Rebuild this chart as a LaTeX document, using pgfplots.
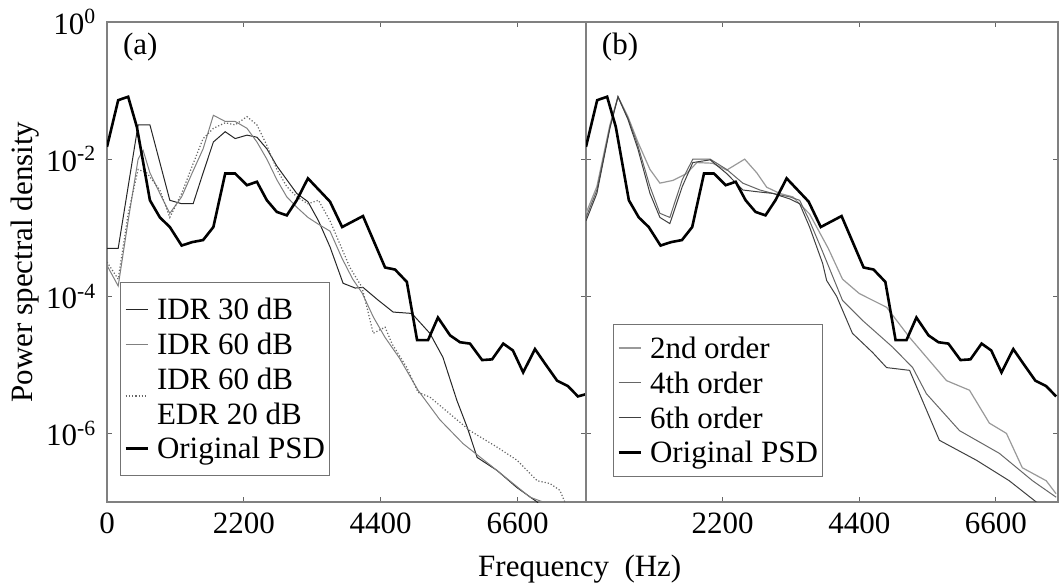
\documentclass[border=0pt]{standalone}
\usepackage{fontspec}
\setmainfont{Liberation Serif}
\usepackage{pgfplots}
\pgfplotsset{compat=1.18}
\pgfplotsset{
  common/.style={
    scale only axis, height=240pt,
    ymin=-7, ymax=0,
    ytick={-6,-4,-2,0},
    xtick={0,2200,4400,6600},
    tick align=inside,
    xtick pos=both, ytick pos=both,
    major tick length=2.5pt,
    axis line style={black!50, line width=0.7pt},
    every tick/.style={black!60, line width=0.5pt},
    legend cell align=left,
    legend style={draw=black!55, line width=0.5pt, fill=white, inner xsep=2pt, inner ysep=5.5pt, row sep=1.5pt, nodes={inner sep=0.5pt},
      /tikz/every odd column/.append style={column sep=3.5pt}},
    legend image code/.code={\draw[##1] (0pt,0pt) -- (11pt,0pt);},
    clip=true,
  },
  shiftedlegend/.style={legend image code/.code={\draw[##1, overlay] (0pt,-8.5pt) -- (11pt,-8.5pt);}},
}
\begin{document}
\fontsize{15.5}{18}\selectfont
\begin{tikzpicture}
\path[use as bounding box] (0pt,0pt) rectangle (529.5pt,291.5pt);
\begin{axis}[common, at={(53.5pt,40.5pt)}, anchor=south west, width=239.5pt,
  xmin=0, xmax=7700,
  xticklabels={0,2200,4400,6600},
  yticklabels={10\textsuperscript{-6},10\textsuperscript{-4},10\textsuperscript{-2},10\textsuperscript{0}},
  ylabel={Power spectral density},
  ylabel style={yshift=-7pt},
  xlabel={Frequency\enspace(Hz)},
  xlabel style={at={(ticklabel cs:0.987)}, anchor=north},
  legend style={at={(0.027,0.054)}, anchor=south west}]
\addplot[black!85, line width=0.5pt] coordinates {(0,-3.30)(180,-3.30)(500,-1.50)(690,-1.50)(1010,-2.60)(1200,-2.65)(1385,-2.65)(1545,-2.20)(1710,-1.75)(1900,-1.60)(2060,-1.70)(2250,-1.65)(2410,-1.68)(2570,-1.85)(2730,-2.10)(2890,-2.30)(3050,-2.50)(3230,-2.62)(3400,-2.90)(3585,-3.28)(3795,-3.81)(3990,-3.88)(4115,-3.87)(4350,-4.05)(4600,-4.23)(4900,-4.25)(5190,-4.54)(5400,-4.89)(5625,-5.52)(5790,-5.91)(5950,-6.35)(6270,-6.54)(6590,-6.79)(6915,-7.0)(7100,-7.2)};
\addlegendentry{\strut IDR 30 dB}
\addplot[black!50, line width=0.5pt] coordinates {(0,-3.55)(180,-3.85)(340,-2.9)(500,-2.0)(580,-1.87)(690,-2.2)(850,-2.5)(1010,-2.79)(1200,-2.55)(1370,-2.2)(1545,-1.85)(1710,-1.36)(1900,-1.45)(2060,-1.45)(2250,-1.55)(2410,-1.75)(2570,-2.00)(2730,-2.30)(2890,-2.55)(3050,-2.70)(3230,-2.85)(3400,-2.95)(3585,-3.05)(3780,-3.45)(3950,-3.75)(4100,-3.95)(4280,-4.3)(4470,-4.6)(4700,-4.9)(5000,-5.37)(5350,-5.8)(5725,-6.15)(6270,-6.54)(6800,-6.93)(7010,-7.0)(7200,-7.15)};
\addlegendentry{\strut IDR 60 dB}
\addplot[black!60, densely dotted, line width=0.6pt, shiftedlegend] coordinates {(0,-3.50)(180,-3.75)(340,-2.8)(500,-2.15)(640,-2.2)(850,-2.45)(1010,-2.85)(1200,-2.5)(1370,-2.1)(1545,-1.7)(1710,-1.55)(1900,-1.47)(2060,-1.5)(2250,-1.38)(2410,-1.5)(2570,-1.8)(2730,-2.15)(2890,-2.4)(3050,-2.55)(3230,-2.65)(3400,-2.6)(3585,-2.9)(3905,-3.58)(4100,-3.87)(4280,-4.54)(4470,-4.45)(4580,-4.69)(4820,-5.04)(5000,-5.4)(5190,-5.47)(5835,-5.96)(6270,-6.2)(6590,-6.39)(6915,-6.69)(7120,-6.73)(7280,-6.83)(7360,-7.0)(7450,-7.2)};
\addlegendentry{\strut IDR 60 dB}
\addlegendimage{empty legend}
\addlegendentry{\strut EDR 20 dB}
\addplot[black, line width=1.3pt] coordinates {(0,-1.82)(180,-1.14)(340,-1.09)(480,-1.53)(690,-2.60)(850,-2.85)(1010,-2.99)(1200,-3.26)(1370,-3.21)(1545,-3.18)(1710,-2.99)(1900,-2.21)(2060,-2.21)(2250,-2.38)(2410,-2.33)(2570,-2.60)(2730,-2.77)(2890,-2.82)(3050,-2.60)(3230,-2.28)(3460,-2.50)(3585,-2.62)(3780,-2.99)(4115,-2.83)(4470,-3.58)(4630,-3.61)(4820,-3.79)(4985,-4.64)(5160,-4.64)(5320,-4.31)(5515,-4.57)(5675,-4.67)(5835,-4.69)(6030,-4.93)(6190,-4.92)(6370,-4.69)(6525,-4.79)(6690,-5.11)(6880,-4.77)(7040,-4.98)(7235,-5.23)(7410,-5.31)(7570,-5.46)(7690,-5.43)};
\addlegendentry{\strut Original PSD}
\node[anchor=west] at (rel axis cs:0.011,0.948) {(a)};
\end{axis}
\begin{axis}[common, at={(293pt,40.5pt)}, anchor=south west, width=236pt,
  xmin=0, xmax=7600,
  xticklabels={,2200,4400,6600},
  yticklabels={},
  legend style={at={(0.057,0.052)}, anchor=south west, inner ysep=4pt}]
\addplot[black!40, line width=0.6pt] coordinates {(0,-2.79)(175,-2.4)(385,-1.5)(515,-1.09)(675,-1.38)(835,-1.75)(1030,-2.15)(1190,-2.35)(1400,-2.31)(1620,-2.21)(1785,-2.05)(2040,-2.06)(2265,-2.16)(2555,-2.0)(2750,-2.2)(2910,-2.41)(3120,-2.5)(3330,-2.55)(3600,-2.8)(3900,-3.3)(4130,-3.75)(4400,-3.96)(4840,-4.16)(5210,-4.6)(5805,-5.23)(6175,-5.37)(6495,-5.85)(6770,-6.0)(7025,-6.5)(7410,-6.69)(7570,-6.88)};
\addlegendentry{\strut 2nd order}
\addplot[black!60, line width=0.5pt] coordinates {(0,-2.85)(175,-2.45)(385,-1.53)(515,-1.09)(675,-1.4)(835,-1.8)(1030,-2.4)(1190,-2.79)(1350,-2.85)(1550,-2.3)(1720,-2.0)(2000,-2.0)(2265,-2.15)(2525,-2.35)(2800,-2.45)(3010,-2.5)(3280,-2.55)(3440,-2.6)(3600,-2.9)(3810,-3.35)(4130,-4.06)(4450,-4.35)(4935,-4.74)(5260,-5.04)(5480,-5.42)(6015,-5.96)(6655,-6.29)(7190,-6.69)(7570,-6.93)};
\addlegendentry{\strut 4th order}
\addplot[black!75, line width=0.5pt] coordinates {(0,-2.9)(175,-2.5)(385,-1.55)(515,-1.09)(675,-1.42)(835,-1.85)(1030,-2.5)(1190,-2.85)(1350,-2.94)(1550,-2.4)(1720,-2.05)(2000,-2.01)(2265,-2.21)(2525,-2.45)(2800,-2.48)(3010,-2.5)(3280,-2.58)(3440,-2.65)(3600,-2.99)(3810,-3.52)(3875,-3.77)(4035,-4.0)(4290,-4.54)(4615,-4.82)(4840,-5.04)(5210,-5.08)(5690,-6.10)(6285,-6.39)(6815,-6.69)(7250,-7.0)(7500,-7.2)};
\addlegendentry{\strut 6th order}
\addplot[black, line width=1.3pt] coordinates {(0,-1.82)(180,-1.14)(340,-1.09)(480,-1.53)(690,-2.60)(850,-2.85)(1010,-2.99)(1200,-3.26)(1370,-3.21)(1545,-3.18)(1710,-2.99)(1900,-2.21)(2060,-2.21)(2250,-2.38)(2410,-2.33)(2570,-2.60)(2730,-2.77)(2890,-2.82)(3050,-2.60)(3230,-2.28)(3460,-2.50)(3585,-2.62)(3780,-2.99)(4115,-2.83)(4470,-3.58)(4630,-3.61)(4820,-3.79)(4985,-4.64)(5160,-4.64)(5320,-4.31)(5515,-4.57)(5675,-4.67)(5835,-4.69)(6030,-4.93)(6190,-4.92)(6370,-4.69)(6525,-4.79)(6690,-5.11)(6880,-4.77)(7040,-4.98)(7235,-5.23)(7410,-5.31)(7570,-5.46)};
\addlegendentry{\strut Original PSD}
\node[anchor=west] at (rel axis cs:0.011,0.948) {(b)};
\end{axis}
\end{tikzpicture}
\end{document}
